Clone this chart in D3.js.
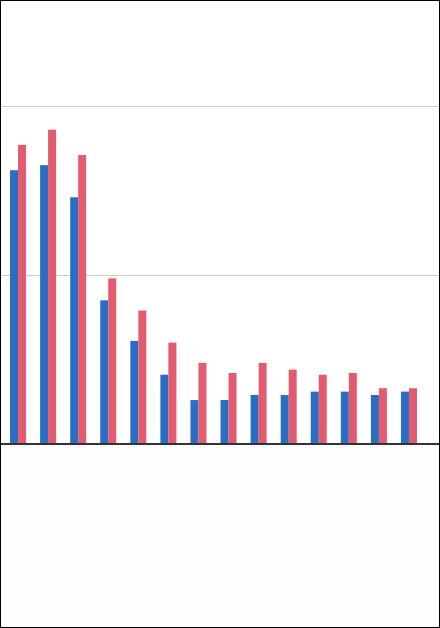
<!DOCTYPE html>
<html><head><meta charset="utf-8">
<script src="https://cdn.jsdelivr.net/npm/d3@7"></script>
<style>body{margin:0;background:#fff}svg{display:block}</style>
</head><body>
<div id="chart"></div>
<script>
const groups = ['1','2','3','4','5','6','7','8','9','10','11','12','13','14']
const seriesA = [162, 165, 146, 85, 61, 41, 26, 26, 29, 29, 31, 31, 29, 31]
const seriesB = [177, 186, 171, 98, 79, 60, 48, 42, 48, 44, 41, 42, 33, 33]
const gridTicks = [100, 200]

const w = 440, h = 628
const svg = d3.select('#chart').append('svg').attr('width', w).attr('height', h)

const x = d3.scaleBand().domain(groups).range([3, 424])
const sub = d3.scaleBand().domain(['a', 'b']).range([x.bandwidth() / 2 - 8, x.bandwidth() / 2 + 8])
const y = d3.scaleLinear().domain([0, 200]).range([444, 106])

svg.append('rect').attr('x', 0).attr('y', 444).attr('width', w).attr('height', h - 444).attr('fill', '#fdfdfd')

svg.append('g').selectAll('line').data(gridTicks).enter().append('line')
  .attr('x1', 0).attr('x2', w).attr('y1', d => y(d) + 0.5).attr('y2', d => y(d) + 0.5)
  .attr('stroke', '#cccccc')

const bars = svg.append('g')
bars.selectAll('.a').data(seriesA).enter().append('rect')
  .attr('x', (d, i) => x(groups[i]) + sub('a')).attr('width', sub.bandwidth())
  .attr('y', d => y(d)).attr('height', d => y(0) - y(d)).attr('fill', '#2b6cc4')
bars.selectAll('.b').data(seriesB).enter().append('rect')
  .attr('x', (d, i) => x(groups[i]) + sub('b')).attr('width', sub.bandwidth())
  .attr('y', d => y(d)).attr('height', d => y(0) - y(d)).attr('fill', '#e35b6f')

svg.append('line').attr('x1', 0).attr('x2', w).attr('y1', y(0)).attr('y2', y(0))
  .attr('stroke', '#333').attr('stroke-width', 2)

svg.append('rect').attr('x', 0.5).attr('y', 0.5).attr('width', w - 1).attr('height', h - 1)
  .attr('fill', 'none').attr('stroke', '#000')
</script>
</body></html>
